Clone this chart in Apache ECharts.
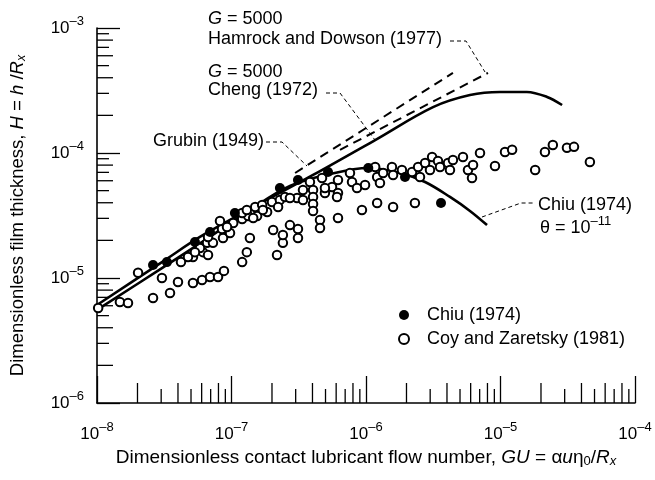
<!DOCTYPE html>
<html><head><meta charset="utf-8">
<script src="https://cdn.jsdelivr.net/npm/echarts@6/dist/echarts.min.js"></script>
<style>html,body{margin:0;padding:0;background:#fff}#c{width:655px;height:480px}</style>
</head><body><div id="c"></div>
<script>
// ---- data (log-log) ----
const coyGU = [1.02e-8,1.48e-8,1.70e-8,2.02e-8,2.61e-8,3.04e-8,3.49e-8,4.00e-8,4.21e-8,5.17e-8,5.17e-8,6.04e-8,6.92e-8,7.94e-8,8.79e-8,6.14e-8,6.69e-8,5.83e-8,6.58e-8,4.75e-8,7.28e-8,8.65e-8,8.50e-8,9.75e-8,1.20e-7,1.30e-7,1.37e-7,1.20e-7,1.33e-7,1.50e-7,1.69e-7,1.84e-7,2.00e-7,1.55e-7,1.03e-7,8.21e-8,2.18e-7,2.41e-7,2.41e-7,2.04e-7,2.72e-7,3.12e-7,3.12e-7,2.29e-7,2.50e-7,2.22e-7,3.07e-7,3.40e-7,3.40e-7,3.83e-7,4.04e-7,4.04e-7,4.04e-7,4.04e-7,4.71e-7,4.95e-7,5.59e-7,6.19e-7,6.19e-7,4.55e-7,4.55e-7,6.19e-7,7.60e-7,7.87e-7,8.57e-7,9.84e-7,9.33e-7,1.21e-6,1.21e-6,1.17e-6,1.27e-6,1.34e-6,1.56e-6,1.59e-6,1.85e-6,1.59e-6,2.31e-6,2.20e-6,2.52e-6,2.44e-6,2.75e-6,3.10e-6,3.43e-6,2.99e-6,3.55e-6,4.07e-6,4.21e-6,4.43e-6,5.26e-6,5.73e-6,6.25e-6,6.14e-6,7.04e-6,9.10e-6,1.08e-5,1.22e-5,1.81e-5,2.14e-5,2.45e-5,3.12e-5,3.52e-5,4.62e-5,9.26e-8,1.45e-7,1.71e-7,2.72e-7,4.95e-7,6.69e-8,1.20e-7,1.30e-7,5.35e-8,6.09e-7];
const coyH = [5.75e-6,6.43e-6,6.31e-6,1.10e-5,6.92e-6,1.00e-5,7.59e-6,9.29e-6,1.34e-5,9.12e-6,1.47e-5,9.64e-6,1.02e-5,1.02e-5,1.14e-5,1.61e-5,1.53e-5,1.74e-5,1.91e-5,1.47e-5,1.91e-5,2.09e-5,2.47e-5,2.29e-5,1.34e-5,1.61e-5,2.09e-5,2.96e-5,3.13e-5,3.70e-5,3.84e-5,3.37e-5,4.06e-5,3.13e-5,2.75e-5,2.86e-5,1.53e-5,1.91e-5,2.21e-5,2.42e-5,2.65e-5,2.47e-5,2.09e-5,4.21e-5,4.45e-5,3.70e-5,4.37e-5,5.06e-5,4.21e-5,5.86e-5,5.06e-5,4.45e-5,3.91e-5,3.44e-5,6.31e-5,4.79e-5,5.35e-5,6.08e-5,4.79e-5,2.91e-5,2.51e-5,3.02e-5,6.92e-5,5.86e-5,5.25e-5,5.55e-5,3.50e-5,6.43e-5,3.98e-5,7.73e-5,5.75e-5,6.92e-5,7.73e-5,6.67e-5,7.31e-5,3.70e-5,3.98e-5,7.05e-5,6.43e-5,7.73e-5,8.32e-5,9.29e-5,8.63e-5,7.31e-5,7.73e-5,8.32e-5,7.31e-5,8.79e-5,9.29e-5,7.31e-5,8.02e-5,6.31e-5,1.00e-4,7.87e-5,1.02e-4,1.06e-4,7.31e-5,1.02e-4,1.16e-4,1.10e-4,1.12e-4,8.47e-5,2.56e-5,3.02e-5,3.50e-5,4.37e-5,5.25e-5,2.13e-5,3.31e-5,3.50e-5,1.61e-5,4.45e-5];
const chiuGU = [2.61e-8,3.31e-8,5.35e-8,6.92e-8,1.06e-7,2.29e-7,3.12e-7,5.22e-7,1.04e-6,1.95e-6,3.61e-6];
const chiuH  = [1.27e-5,1.34e-5,1.94e-5,2.33e-5,3.31e-5,5.25e-5,6.08e-5,7.05e-5,7.59e-5,6.43e-5,3.98e-5];
const chengCurveGU = [1.0e-8,3.04e-8,6.35e-8,4.04e-7,1.17e-6,3.15e-6,5.93e-6,9.91e-6,1.57e-5,2.22e-5,2.87e-5];
const chengCurveH  = [6.08e-6,1.34e-5,2.25e-5,6.67e-5,1.27e-4,2.33e-4,2.91e-4,3.08e-4,3.08e-4,2.81e-4,2.42e-4];
const chiuCurveGU = [1.0e-8,3.04e-8,6.35e-8,1.37e-7,2.72e-7,5.40e-7,1.04e-6,1.79e-6,2.75e-6,4.21e-6,5.93e-6,7.94e-6];
const chiuCurveH  = [5.55e-6,1.20e-5,2.01e-5,3.50e-5,5.45e-5,6.79e-5,7.59e-5,6.92e-5,5.86e-5,4.45e-5,3.44e-5,2.65e-5];
const grubinGU = [2.97e-7,4.43e-6];
const grubinH  = [6.92e-5,4.37e-4];
const hamrockGU = [6.41e-7,8.07e-6];
const hamrockH  = [1.06e-4,4.37e-4];
const xMinorTicks = [2e-8,3e-8,4e-8,5e-8,6e-8,7e-8,8e-8,9e-8,2e-7,3e-7,4e-7,5e-7,6e-7,7e-7,8e-7,9e-7,2e-6,3e-6,4e-6,5e-6,6e-6,7e-6,8e-6,9e-6,2e-5,3e-5,4e-5,5e-5,6e-5,7e-5,8e-5,9e-5];
const yMinorTicks = [2e-6,3e-6,4e-6,5e-6,6e-6,7e-6,8e-6,9e-6,2e-5,3e-5,4e-5,5e-5,6e-5,7e-5,8e-5,9e-5,2e-4,3e-4,4e-4,5e-4,6e-4,7e-4,8e-4,9e-4];

const FF = '"Liberation Sans", Arial, Helvetica, sans-serif';
const zip = (a, b) => a.map((v, i) => [v, b[i]]);
function mant(v){ return Math.round(v / Math.pow(10, Math.floor(Math.log10(v) + 1e-9))); }
function powLabel(v){ const e = Math.round(Math.log10(v)); return '{b|10}{s|\u2013' + Math.abs(e) + '}'; }
const tickRich = {
  b: {fontFamily: FF, fontSize: 17, color: '#000', verticalAlign: 'middle'},
  s: {fontFamily: FF, fontSize: 13, color: '#000', verticalAlign: 'top', padding: [0, 0, 14, 0]}
};
const T = (extra) => Object.assign({fontFamily: FF, fontSize: 18, color: '#000'}, extra || {});
const TX = (extra) => Object.assign({fontFamily: FF, fontSize: 19, color: '#000'}, extra || {});

const chart = echarts.init(document.getElementById('c'), null, {renderer: 'canvas'});
const lineBase = {type: 'line', symbol: 'none', silent: true, z: 2};
chart.setOption({
  animation: false,
  backgroundColor: '#fff',
  grid: {left: 97, right: 20, top: 28, bottom: 77, containLabel: false},
  xAxis: {
    type: 'log', logBase: 10, min: 1e-8, max: 1e-4,
    axisLine: {show: true, lineStyle: {color: '#000', width: 1.6}},
    axisTick: {show: true, inside: true, length: 27, lineStyle: {color: '#000', width: 1.3}},
    minorTick: {show: false}, splitLine: {show: false},
    axisLabel: {formatter: powLabel, margin: 18, rich: tickRich, showMinLabel: true, showMaxLabel: true},
    name: '{n|Dimensionless contact lubricant flow number, }{i|GU}{n| = \u03b1}{i|u}{n|\u03b7}{sub|0}{n|/}{i|R}{subi|x}',
    nameLocation: 'middle', nameGap: 44,
    nameTextStyle: {fontFamily: FF, fontSize: 19, color: '#000', rich: {
      n: TX(), i: TX({fontStyle: 'italic'}),
      sub: TX({fontSize: 13, verticalAlign: 'bottom', padding: [8, 0, 0, 0]}),
      subi: TX({fontSize: 13, fontStyle: 'italic', verticalAlign: 'bottom', padding: [8, 0, 0, 0]})
    }}
  },
  yAxis: {
    type: 'log', logBase: 10, min: 1e-6, max: 1e-3,
    axisLine: {show: true, lineStyle: {color: '#000', width: 1.6}},
    axisTick: {show: true, inside: true, length: 23, lineStyle: {color: '#000', width: 1.3}},
    minorTick: {show: false}, splitLine: {show: false},
    axisLabel: {formatter: powLabel, margin: 13, rich: tickRich, showMinLabel: true, showMaxLabel: true},
    name: '{n|Dimensionless film thickness, }{i|H}{n| = }{i|h}{n| /}{i|R}{subi|x}',
    nameLocation: 'middle', nameGap: 69, nameRotate: 90,
    nameTextStyle: {fontFamily: FF, fontSize: 18.5, color: '#000', rich: {
      n: T({fontSize: 18.5}), i: T({fontSize: 18.5, fontStyle: 'italic'}),
      subi: T({fontSize: 12.5, fontStyle: 'italic', verticalAlign: 'bottom', padding: [8, 0, 0, 0]})
    }}
  },
  legend: {
    data: ['Chiu (1974)', 'Coy and Zaretsky (1981)'],
    orient: 'vertical', left: 393, top: 301, itemWidth: 10, itemHeight: 10, itemGap: 6,
    icon: 'circle',
    textStyle: {fontFamily: FF, fontSize: 18, color: '#000', padding: [0, 0, 0, 13]},
    selectedMode: false
  },
  series: [
    {type: 'custom', name: 'xminor', silent: true, z: 1, clip: false,
     data: xMinorTicks.map(v => [v, 1e-6]),
     renderItem: (params, api) => {
       const p = api.coord([api.value(0), api.value(1)]);
       const len = mant(api.value(0)) % 2 === 0 ? 20 : 14;
       return {type: 'line', shape: {x1: p[0], y1: p[1], x2: p[0], y2: p[1] - len}, style: {stroke: '#000', lineWidth: 1.3}};
     }},
    {type: 'custom', name: 'yminor', silent: true, z: 1, clip: false,
     data: yMinorTicks.map(v => [1e-8, v]),
     renderItem: (params, api) => {
       const p = api.coord([api.value(0), api.value(1)]);
       const len = mant(api.value(1)) % 2 === 0 ? 16 : 12;
       return {type: 'line', shape: {x1: p[0], y1: p[1], x2: p[0] + len, y2: p[1]}, style: {stroke: '#000', lineWidth: 1.3}};
     }},
    Object.assign({}, lineBase, {name: 'Cheng (1972)', smooth: 0.35, data: zip(chengCurveGU, chengCurveH), lineStyle: {color: '#000', width: 2.6}}),
    Object.assign({}, lineBase, {name: 'Chiu theory', smooth: 0.35, data: zip(chiuCurveGU, chiuCurveH), lineStyle: {color: '#000', width: 2.6}}),
    Object.assign({}, lineBase, {name: 'Grubin (1949)', data: zip(grubinGU, grubinH), lineStyle: {color: '#000', width: 2, type: [9, 6]}}),
    Object.assign({}, lineBase, {name: 'Hamrock and Dowson (1977)', data: zip(hamrockGU, hamrockH), lineStyle: {color: '#000', width: 2, type: [9, 6]}}),
    {type: 'scatter', name: 'Coy and Zaretsky (1981)', z: 4, symbol: 'circle', symbolSize: 8.5,
     data: zip(coyGU, coyH), itemStyle: {color: '#fff', borderColor: '#000', borderWidth: 2, opacity: 1}},
    {type: 'scatter', name: 'Chiu (1974)', z: 5, symbol: 'circle', symbolSize: 10,
     data: zip(chiuGU, chiuH), itemStyle: {color: '#000', borderColor: '#000', borderWidth: 0, opacity: 1}}
  ],
  graphic: [
    {type: 'text', x: 208, y: 19, style: {text: '{i|G}{n| = 5000}', verticalAlign: 'middle', rich: {i: T({fontStyle: 'italic', fill: '#000'}), n: T({fill: '#000'})}}},
    {type: 'text', x: 208, y: 39, style: {text: 'Hamrock and Dowson (1977)', font: '18px ' + FF, fill: '#000', verticalAlign: 'middle'}},
    {type: 'text', x: 208, y: 72, style: {text: '{i|G}{n| = 5000}', verticalAlign: 'middle', rich: {i: T({fontStyle: 'italic', fill: '#000'}), n: T({fill: '#000'})}}},
    {type: 'text', x: 208, y: 90, style: {text: 'Cheng (1972)', font: '18px ' + FF, fill: '#000', verticalAlign: 'middle'}},
    {type: 'text', x: 153, y: 141, style: {text: 'Grubin (1949)', font: '18px ' + FF, fill: '#000', verticalAlign: 'middle'}},
    {type: 'text', x: 538, y: 205, style: {text: 'Chiu (1974)', font: '18px ' + FF, fill: '#000', verticalAlign: 'middle'}},
    {type: 'text', x: 540, y: 226, style: {text: '{n|\u03b8 = 10}{s|\u201311}', verticalAlign: 'middle', rich: {n: T({fill: '#000', verticalAlign: 'bottom'}), s: T({fontSize: 13, fill: '#000', verticalAlign: 'top', padding: [0, 0, 10, 0]})}}},
    {type: 'polyline', shape: {points: [[266, 142], [282, 142], [307, 166]]}, style: {stroke: '#000', lineWidth: 1, lineDash: [4, 3], fill: null}},
    {type: 'polyline', shape: {points: [[326, 93], [340, 93], [375, 140]]}, style: {stroke: '#000', lineWidth: 1, lineDash: [4, 3], fill: null}},
    {type: 'polyline', shape: {points: [[450, 41], [466, 41], [485, 72]]}, style: {stroke: '#000', lineWidth: 1, lineDash: [4, 3], fill: null}},
    {type: 'polyline', shape: {points: [[482, 217], [521, 203], [534, 203]]}, style: {stroke: '#000', lineWidth: 1, lineDash: [4, 3], fill: null}}
  ]
});
</script></body></html>
